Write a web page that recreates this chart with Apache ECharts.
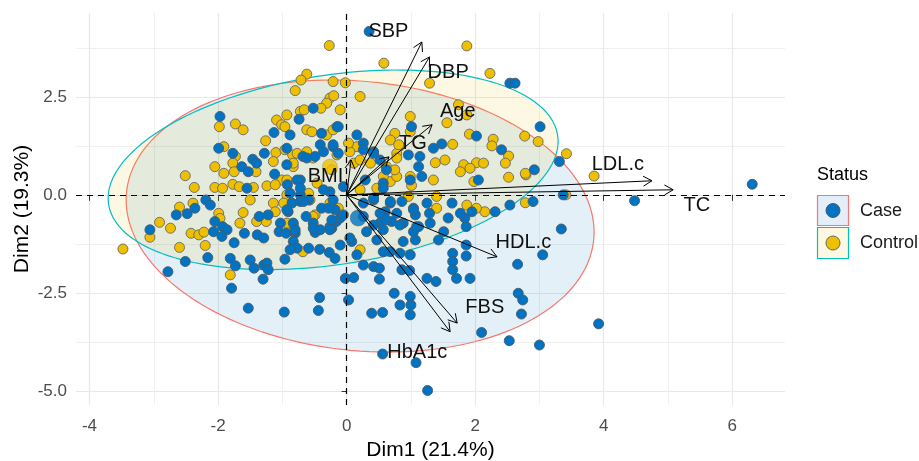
<!DOCTYPE html>
<html><head><meta charset="utf-8">
<script src="https://cdn.jsdelivr.net/npm/echarts@6/dist/echarts.min.js"></script>
<style>html,body{margin:0;padding:0;background:#fff}#c{width:919px;height:461px}</style>
</head><body><div id="c"></div>
<script>
const xTicks = [-4, -2, 0, 2, 4, 6];
const xMinor = [-3, -1, 1, 3, 5];
const yTicks = [-5, -2.5, 0, 2.5];
const yMinor = [-3.75, -1.25, 1.25, 3.75];

const casePts = [
[-0.52,2.21],[-0.74,1.93],[-0.88,1.53],[-1.13,1.59],[-1.97,2.0],[-1.99,1.19],[-1.77,1.06],[-1.63,0.72],[-1.46,0.91],[-1.40,0.81],[-1.28,1.06],[-0.93,1.19],[-0.93,0.77],[-1.53,0.59],[-1.12,0.53],[-0.92,0.26],[-1.55,0.17],[-0.72,0.38],[-0.68,0.98],[-0.49,0.98],[-0.41,1.28],[-0.39,1.57],[-0.21,1.23],[-0.15,1.74],[-0.26,0.08],[-0.72,0.0],
[0.35,4.17],[2.54,2.85],[2.62,2.85],[1.01,1.74],[-0.13,1.74],[0.16,1.53],[3.01,1.74],[2.02,1.50],[1.48,1.30],[1.35,1.19],[2.41,1.15],[3.31,0.85],[0.96,1.02],[1.14,0.98],[1.12,0.72],[2.92,0.64],[1.17,0.47],[0.42,1.10],[0.26,1.32],[0.62,0.64],[0.57,0.30],[0.29,0.38],[-0.13,1.06],[3.37,0.0],[2.05,0.38],[0.52,0.89],
[4.48,-0.15],[6.31,0.27],[2.9,-0.17],[2.54,-0.26],
[-3.06,-0.89],[-2.78,-1.96],[-2.51,-1.70],[-2.65,-0.51],[-2.48,-0.48],[-2.36,-0.34],[-2.16,-1.60],[-2.19,-0.13],[-2.12,-0.26],[-2.05,-0.68],[-1.93,-0.81],[-2.07,-0.94],[-1.86,-0.89],[-1.94,-1.06],[-1.75,-1.22],[-1.81,-1.62],[-1.73,-1.81],[-1.79,-2.38],[-1.53,-2.89],[-0.97,-2.99],[-0.42,-2.62],[-0.44,-2.95],[-1.59,-0.98],[-1.36,-0.55],[-1.22,-0.51],[-1.39,-1.02],[-1.29,-1.10],[-1.50,-1.66],[-1.44,-1.87],[-1.29,-1.79],[-1.24,-1.74],[-1.30,-2.15],[-1.22,-1.91],[-1.03,-0.72],[-1.05,-0.94],[-0.94,-0.98],[-0.80,-0.98],[-0.83,-1.19],[-0.77,-1.36],[-0.88,-1.40],[-0.96,-1.64],[-0.59,-1.36],[-0.42,-1.39],[-0.27,-1.47],[-0.18,-1.62],[-0.52,-0.72],[-0.49,-0.96],[-0.63,-0.55],[-0.91,-0.43],[-0.85,-0.21],[-0.72,-0.17],[-0.59,-0.13],[-0.39,-0.34],[-0.23,-0.85],[-0.16,-0.68],
[0.26,-0.55],[-0.26,-0.81],[-0.10,-1.28],[0.08,-1.19],[0.16,-1.53],[0.26,-1.79],[0.42,-1.83],[0.51,-1.87],[-0.02,-2.13],[0.11,-2.11],[0.51,-2.15],[0.03,-2.68],[0.39,-3.02],[0.56,-3.00],[0.74,-2.51],[0.83,-2.81],[0.99,-2.59],[1.0,-2.81],[0.99,-3.06],[0.86,-1.91],[0.98,-1.93],[0.99,-1.53],[0.83,-1.49],[0.68,-1.45],[0.57,-1.45],[1.25,-2.13],[1.39,-2.21],[1.71,-2.13],[1.92,-2.13],[1.65,-1.49],[1.65,-1.70],[1.65,-1.91],[1.86,-1.56],[1.86,-1.28],[1.86,-0.81],[1.84,-0.59],[2.66,-1.77],[3.05,-1.53],[3.34,-0.87],[2.67,-2.51],[2.74,-2.68],[2.72,-3.04],[2.10,-3.51],[2.53,-3.72],[3.0,-3.83],[0.56,-4.06],[1.08,-4.28],[1.26,-4.99],[3.92,-3.29],[2.31,-0.43],[1.95,-0.43],[1.77,-0.47],[1.64,-0.21],[1.58,-0.59],[1.29,-0.47],[1.30,-0.72],[1.43,-1.15],[1.51,-0.94],[1.12,-0.81],[1.04,-0.94],[0.88,-0.72],[0.78,-0.47],[1.07,-0.51],[1.04,-0.34],[1.25,-0.21],[0.57,-0.89],[0.52,-0.72],[0.68,-0.21],[0.86,-0.17],[1.07,-1.15],[0.88,-1.19],[0.42,-0.13],[-0.10,-0.59],[-0.18,-0.38],[0.60,-0.43],[0.70,-0.68],[0.47,-1.15],
[-0.62,0.94],[-0.36,1.10],[-0.21,1.28],[0.26,1.15],[0.42,1.06],[0.99,0.38],[-0.77,0.38],[-0.72,0.17],[-0.88,0.04],[-0.67,-0.17],[-0.36,0.13],[-0.21,-0.13],[-0.28,-0.34],[-0.23,-0.64],[-0.05,-0.51],[-0.05,0.21],[-0.93,-0.38],[-0.83,-0.72],[-0.80,-0.89],[-0.52,-0.85],[-0.41,-0.89],[-0.26,-0.89],[0.05,-1.10],[0.26,-0.21],[0.42,-0.08],[0.57,0.17],[0.68,-0.17],[0.52,-0.47],[0.62,-0.64],[0.42,-0.77],[0.83,-0.77],[1.04,-0.38],[1.09,-0.81],[0.31,-0.94]
];

const controlPts = [
[-0.27,3.81],[-0.62,3.08],[-0.71,2.93],[-0.80,2.66],[-0.21,2.89],[-0.26,2.47],[-0.31,2.34],[-0.20,2.53],[-0.40,2.21],[-0.72,2.13],[-0.66,2.17],[-0.93,2.04],[-1.09,1.91],[-1.01,1.79],[-0.96,1.74],[-1.98,1.74],[-1.73,1.81],[-1.61,1.66],[-1.26,1.38],[-1.91,1.23],[-1.73,0.98],[-2.05,0.72],[-1.91,0.55],[-1.77,0.81],[-1.75,0.59],[-1.41,0.59],[-1.10,1.08],[-1.14,0.85],[-0.84,1.02],[-0.83,0.72],[-1.01,0.38],[-2.51,0.49],[-2.37,0.19],[-2.05,0.19],[-1.93,0.17],[-1.77,0.27],[-1.67,0.21],[-1.45,0.19],[-1.24,0.23],[-1.11,0.26],[-0.62,1.10],[-0.31,1.53],[-0.62,1.66],[-0.54,1.61],[-0.15,1.02],[-0.10,2.17],[-0.23,0.64],[-0.59,0.04],
[1.87,3.80],[0.58,3.36],[2.23,3.10],[1.29,2.85],[-0.02,2.86],[0.21,2.51],[1.74,2.30],[1.87,2.04],[0.99,2.00],[1.56,1.84],[0.99,1.61],[-0.21,1.66],[2.77,1.50],[2.98,1.36],[1.91,1.55],[2.28,1.42],[2.26,1.25],[1.65,1.29],[2.52,0.99],[3.42,1.05],[0.75,1.57],[0.68,1.40],[0.83,1.25],[0.78,1.06],[1.38,0.82],[1.53,0.89],[1.82,0.77],[2.02,0.82],[2.13,0.81],[1.77,0.59],[1.92,0.68],[2.47,0.81],[2.79,0.51],[2.52,0.45],[1.98,0.34],[0.99,0.47],[1.35,0.38],[1.01,0.24],[0.16,1.23],[0.37,0.81],[0.68,0.34],[0.78,0.47],[0.47,0.17],[0.21,0.13],[0.05,1.10],
[2.78,0.55],[3.85,0.48],[3.41,0.0],[2.78,-0.20],
[-3.48,-1.38],[-3.06,-1.08],[-2.91,-0.70],[-2.74,-0.85],[-2.60,-1.34],[-2.60,-0.31],[-2.39,-0.21],[-2.42,-0.98],[-2.30,-1.02],[-2.22,-0.95],[-2.20,-1.29],[-1.99,-0.47],[-1.97,-0.60],[-1.81,-2.04],[-1.66,-0.72],[-1.61,-0.45],[-1.50,-0.13],[-1.40,-0.68],[-1.25,-0.68],[-1.14,-0.21],[-1.11,-0.43],[-0.83,-0.77],[-0.68,-1.45],[-0.49,-0.51],[-0.93,-0.17],[-0.93,0.0],
[0.21,-1.40],[2.15,-0.43],[2.02,-0.34],[1.87,-0.26],[1.40,-0.34],[0.96,-0.04],[1.40,-0.04],[-0.26,-0.21],
[-0.96,1.15],[-0.83,0.81],[-0.77,1.06],[-0.52,0.94],[0.03,1.32],[0.11,0.81],[0.21,0.89],[0.62,0.72],[0.75,0.64],[0.57,0.47],[0.81,1.28],[0.78,0.94],[-0.93,0.38],[-0.57,-0.13],[-0.46,0.30],[-0.13,-0.34],[-0.98,-0.21],[-0.52,-0.55],[-0.93,-0.72]
];

const caseMean = [[0.18, -0.59]];
const controlMean = [[-0.26, 0.72]];

const varNames = ['SBP', 'DBP', 'Age', 'TG', 'BMI', 'LDL.c', 'TC', 'HDL.c', 'FBS', 'HbA1c'];
const varTips = [[1.17,3.90],[1.29,3.52],[1.33,1.79],[0.66,0.97],[0.07,0.89],[4.75,0.36],[5.08,0.13],[2.34,-1.58],[1.72,-3.27],[1.61,-3.49]];
const varLabelPos = [[0.65,4.18],[1.58,3.11],[1.73,2.14],[1.03,1.30],[-0.33,0.46],[4.22,0.77],[5.45,-0.26],[2.75,-1.22],[2.15,-2.86],[1.10,-4.01]];

const caseEllipse = { center: [0.21, -0.54], sxx: 13.25, syy: 12.04, sxy: -1.5 };
const controlEllipse = { center: [-0.21, 0.64], sxx: 12.25, syy: 6.48, sxy: 2.54 };

const FONT = '"Liberation Sans", Arial, sans-serif';
const CASE_COL = '#0073C2', CTRL_COL = '#EFC000';

function ellipseSeries(name, e, fill, stroke, extra) {
  return Object.assign({
    type: 'custom', name: name, z: 1, silent: true, data: [[e.center[0], e.center[1]]],
    renderItem: function (params, api) {
      const l11 = Math.sqrt(e.sxx), l21 = e.sxy / l11, l22 = Math.sqrt(e.syy - l21 * l21);
      const pts = [];
      for (let i = 0; i < 160; i++) {
        const t = i / 160 * 2 * Math.PI;
        pts.push(api.coord([e.center[0] + l11 * Math.cos(t), e.center[1] + l21 * Math.cos(t) + l22 * Math.sin(t)]));
      }
      return { type: 'polygon', shape: { points: pts }, style: { fill: fill, stroke: stroke, lineWidth: 1.2 } };
    }
  }, extra || {});
}

const chart = echarts.init(document.getElementById('c'), null, { renderer: 'canvas' });
chart.setOption({
  animation: false,
  backgroundColor: '#ffffff',
  textStyle: { fontFamily: FONT },
  grid: { left: 76, top: 13, width: 709, height: 392, containLabel: false, outerBoundsMode: 'none' },
  xAxis: [{
    type: 'value', min: -4.21, max: 6.82, position: 'bottom',
    axisLine: { show: false },
    axisTick: { show: true, length: 6, customValues: xTicks, lineStyle: { color: '#333', width: 1 } },
    axisLabel: { customValues: xTicks, color: '#4d4d4d', fontSize: 17, margin: 13, fontFamily: FONT },
    splitLine: { show: true, lineStyle: { color: '#e8e8e8', width: 1.2 } },
    name: 'Dim1 (21.4%)', nameLocation: 'middle', nameGap: 33,
    nameTextStyle: { fontSize: 21, color: '#000', fontFamily: FONT }
  }, {
    type: 'value', min: -4.21, max: 6.82, position: 'top',
    axisLine: { show: false },
    axisTick: { show: false, customValues: xMinor },
    axisLabel: { show: false, customValues: xMinor },
    splitLine: { show: true, lineStyle: { color: '#f0f0f0', width: 1 } }
  }],
  yAxis: [{
    type: 'value', min: -5.36, max: 4.64, position: 'left',
    axisLine: { show: false },
    axisTick: { show: true, length: 5, customValues: yTicks, lineStyle: { color: '#333', width: 1 } },
    axisLabel: { customValues: yTicks, color: '#4d4d4d', fontSize: 17, margin: 9, fontFamily: FONT,
      formatter: function (v) { return Number(v).toFixed(1); } },
    splitLine: { show: true, lineStyle: { color: '#e8e8e8', width: 1.2 } },
    name: 'Dim2 (19.3%)', nameLocation: 'middle', nameGap: 43, nameRotate: 90, nameMoveOverlap: false,
    nameTextStyle: { fontSize: 21, color: '#000', fontFamily: FONT }
  }, {
    type: 'value', min: -5.36, max: 4.64, position: 'right',
    axisLine: { show: false },
    axisTick: { show: false, customValues: yMinor },
    axisLabel: { show: false, customValues: yMinor },
    splitLine: { show: true, lineStyle: { color: '#f0f0f0', width: 1 } }
  }],
  series: [
    ellipseSeries('CaseEllipse', caseEllipse, 'rgba(0,115,194,0.11)', '#F8766D', {
      markLine: {
        silent: true, symbol: ['none', 'none'], label: { show: false },
        lineStyle: { color: '#000', type: [6, 5], width: 1.2 },
        data: [{ xAxis: 0 }, { yAxis: 0 }]
      }
    }),
    ellipseSeries('ControlEllipse', controlEllipse, 'rgba(239,192,0,0.11)', '#00BFC4'),
    { type: 'scatter', name: 'Control', z: 3, data: controlPts, symbolSize: 10,
      itemStyle: { color: CTRL_COL, borderColor: '#666', borderWidth: 0.9, opacity: 1 } },
    { type: 'scatter', name: 'Case', z: 3, data: casePts, symbolSize: 10,
      itemStyle: { color: CASE_COL, borderColor: '#4a5a6a', borderWidth: 0.9, opacity: 1 } },
    { type: 'scatter', name: 'ControlMean', z: 3, data: controlMean, symbolSize: 15,
      itemStyle: { color: CTRL_COL, borderColor: '#888', borderWidth: 0.5 } },
    { type: 'scatter', name: 'CaseMean', z: 3, data: caseMean, symbolSize: 16,
      itemStyle: { color: CASE_COL, borderColor: '#4a5a6a', borderWidth: 0.5 } },
    { type: 'custom', name: 'arrows', z: 4, silent: true, data: varTips,
      renderItem: function (params, api) {
        const o = api.coord([0, 0]);
        const t = api.coord([api.value(0), api.value(1)]);
        const ang = Math.atan2(t[1] - o[1], t[0] - o[0]);
        const L = 10, a = Math.PI / 6;
        const h1 = [t[0] - L * Math.cos(ang - a), t[1] - L * Math.sin(ang - a)];
        const h2 = [t[0] - L * Math.cos(ang + a), t[1] - L * Math.sin(ang + a)];
        return { type: 'group', children: [
          { type: 'line', shape: { x1: o[0], y1: o[1], x2: t[0], y2: t[1] }, style: { stroke: '#000', lineWidth: 1 } },
          { type: 'polyline', shape: { points: [h1, t, h2] }, style: { stroke: '#000', lineWidth: 1, fill: null } }
        ] };
      } },
    { type: 'custom', name: 'varLabels', z: 5, silent: true, data: varLabelPos,
      renderItem: function (params, api) {
        const c = api.coord([api.value(0), api.value(1)]);
        return { type: 'text', x: c[0], y: c[1],
          style: { text: varNames[params.dataIndex], fontSize: 20, fontFamily: FONT, fill: '#111', align: 'center', verticalAlign: 'middle' } };
      } }
  ],
  graphic: [
    { type: 'text', x: 817, y: 175, style: { text: 'Status', fontSize: 18, fontFamily: FONT, fill: '#000', verticalAlign: 'middle' } },
    { type: 'rect', shape: { x: 817.5, y: 195.5, width: 31, height: 30 }, style: { fill: '#e3eef8', stroke: '#F8766D', lineWidth: 1.2 } },
    { type: 'circle', shape: { cx: 833, cy: 210.5, r: 7 }, style: { fill: CASE_COL, stroke: '#4a5a6a', lineWidth: 1 } },
    { type: 'rect', shape: { x: 817.5, y: 227.5, width: 31, height: 31 }, style: { fill: '#fdf8e1', stroke: '#00BFC4', lineWidth: 1.2 } },
    { type: 'circle', shape: { cx: 833, cy: 243, r: 7 }, style: { fill: CTRL_COL, stroke: '#666', lineWidth: 1 } },
    { type: 'text', x: 860, y: 211, style: { text: 'Case', fontSize: 18, fontFamily: FONT, fill: '#1a1a1a', verticalAlign: 'middle' } },
    { type: 'text', x: 860, y: 243, style: { text: 'Control', fontSize: 18, fontFamily: FONT, fill: '#1a1a1a', verticalAlign: 'middle' } }
  ]
});
</script>
</body></html>
